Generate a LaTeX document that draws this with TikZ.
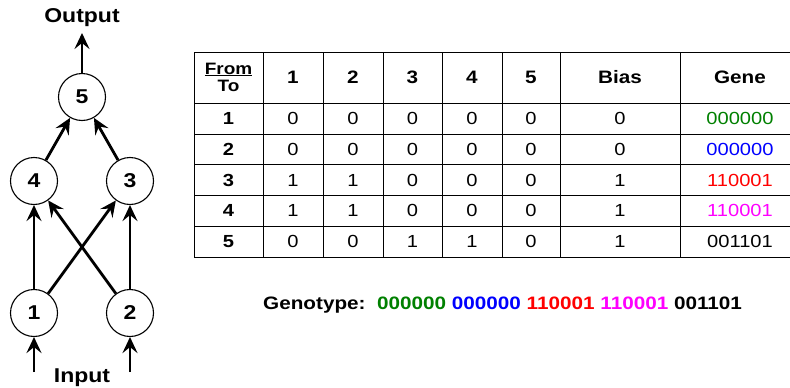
\documentclass[tikz,border=0pt]{standalone}
\usepackage{fontspec}
\setmainfont{Liberation Sans}[FakeStretch=1.15]
\usetikzlibrary{arrows.meta}
\definecolor{geneGreen}{RGB}{0,128,0}
\definecolor{geneBlue}{RGB}{0,0,255}
\definecolor{geneRed}{RGB}{255,0,0}
\definecolor{geneMagenta}{RGB}{255,0,255}
\tikzset{
    neuron/.style={draw, circle, line width=1.1pt, minimum size=47pt, inner sep=0pt,
        font=\fontsize{20}{20}\selectfont\bfseries},
    link/.style={line width=2.8pt, -{Stealth[length=16pt, width=15pt, inset=6pt]}},
    grid/.style={line width=1pt},
    head/.style={font=\fontsize{18}{16}\selectfont\bfseries, align=center},
    cell/.style={font=\fontsize{17.5}{17.5}\selectfont},
}
\begin{document}
\begin{tikzpicture}[x=1pt, y=-1pt]
        \useasboundingbox (0, 0) rectangle (790, 388);
        % network
        \node[neuron] (n5) at (82, 97) {5};
        \node[neuron] (n4) at (34, 181) {4};
        \node[neuron] (n3) at (130, 181) {3};
        \node[neuron] (n1) at (34, 313) {1};
        \node[neuron] (n2) at (130, 313) {2};
        \node[font=\fontsize{20}{20}\selectfont\bfseries] (out) at (82, 18) {Output};
        \node[font=\fontsize{20}{20}\selectfont\bfseries] (in) at (82, 378) {Input};
        \coordinate (otip) at (82, 33);
        \coordinate (in1) at (34, 372);
        \coordinate (in2) at (130, 372);
        \draw[link] (n1) -- (n4);
        \draw[link] (n2) -- (n3);
        \draw[link] (n1) -- (n3);
        \draw[link] (n2) -- (n4);
        \draw[link] (n4) -- (n5);
        \draw[link] (n3) -- (n5);
        \draw[link] (n5) -- (otip);
        \draw[link] (in1) -- (n1);
        \draw[link] (in2) -- (n2);
        % table
        \foreach \y in {52, 103, 134, 164, 195, 226, 257}
            \draw[grid] (194, \y) -- (790, \y);
        \foreach \x in {194, 263, 323, 383, 442, 502, 560, 680}
            \draw[grid] (\x, 52) -- (\x, 257);
        \node[head, font=\fontsize{16.5}{17}\selectfont\bfseries] (h0) at (228.5, 77) {\underline{From}\\To};
        \foreach \x/\t [count=\j] in {293/1, 353/2, 412.5/3, 472/4, 531/5, 620/Bias, 740/Gene}
            \node[head] (h\j) at (\x, 77.5) {\t};
        \foreach \r/\a/\b/\c/\d/\e/\bias/\g/\col [count=\i] in
            {1/0/0/0/0/0/0/000000/geneGreen, 2/0/0/0/0/0/0/000000/geneBlue,
             3/1/1/0/0/0/1/110001/geneRed, 4/1/1/0/0/0/1/110001/geneMagenta,
             5/0/0/1/1/0/1/001101/black}
        {
            \pgfmathsetmacro{\ry}{118.5 + (\i - 1) * 30.75}
            \node[cell, font=\fontsize{17.5}{17.5}\selectfont\bfseries] (r\i) at (228.5, \ry) {\r};
            \node[cell] (c\i-1) at (293, \ry) {\a};
            \node[cell] (c\i-2) at (353, \ry) {\b};
            \node[cell] (c\i-3) at (412.5, \ry) {\c};
            \node[cell] (c\i-4) at (472, \ry) {\d};
            \node[cell] (c\i-5) at (531, \ry) {\e};
            \node[cell] (c\i-6) at (620, \ry) {\bias};
            \node[cell, text=\col] (g\i) at (740, \ry) {\g};
        }
        % genotype
        \node[anchor=west, inner sep=0pt, font=\fontsize{18}{18}\selectfont\bfseries] (geno) at (263, 305)
            {Genotype:~~\textcolor{geneGreen}{000000} \textcolor{geneBlue}{000000}
             \textcolor{geneRed}{110001} \textcolor{geneMagenta}{110001} 001101};
    \end{tikzpicture}
\end{document}
